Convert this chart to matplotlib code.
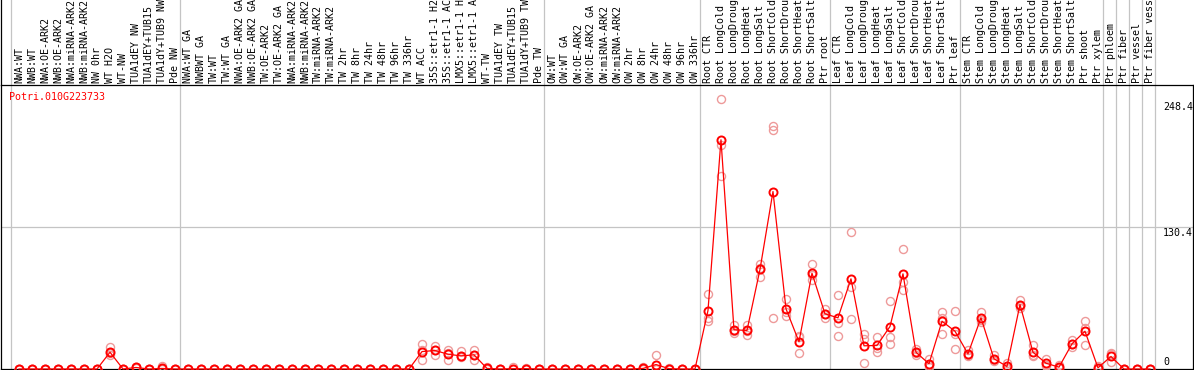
import numpy as np
import matplotlib
matplotlib.use("Agg")
import matplotlib.pyplot as plt
import matplotlib.transforms as mtransforms

# ---------------- data ----------------
gene_id = "Potri.010G223733"

labels = [
    # group 1
    "NWA:WT", "NWB:WT", "NWA:OE-ARK2", "NWB:OE-ARK2", "NWA:miRNA-ARK2",
    "NWB:miRNA-ARK2", "NW 0hr", "WT H2O", "WT-NW", "TUA1dEY NW",
    "TUA1dEY+TUB15", "TUA1dY+TUB9 NW", "Pde NW",
    # group 2
    "NWA:WT GA", "NWBWT GA", "TW:WT", "TW:WT GA", "NWA:OE-ARK2 GA",
    "NWB:OE-ARK2 GA", "TW:OE-ARK2", "TW:OE-ARK2 GA", "NWA:miRNA-ARK2",
    "NWB:miRNA-ARK2", "TW:miRNA-ARK2", "TW:miRNA-ARK2", "TW 2hr", "TW 8hr",
    "TW 24hr", "TW 48hr", "TW 96hr", "TW 336hr", "WT ACC", "35S::etr1-1 H2",
    "35S::etr1-1 AC", "LMX5::etr1-1 H", "LMX5::etr1-1 A", "WT-TW",
    "TUA1dEY TW", "TUA1dEY+TUB15", "TUA1dY+TUB9 TW", "Pde TW",
    # group 3
    "OW:WT", "OW:WT GA", "OW:OE-ARK2", "OW:OE-ARK2 GA", "OW:miRNA-ARK2",
    "OW:miRNA-ARK2", "OW 2hr", "OW 8hr", "OW 24hr", "OW 48hr", "OW 96hr",
    "OW 336hr",
    # root
    "Root CTR", "Root LongCold", "Root LongDroug", "Root LongHeat",
    "Root LongSalt", "Root ShortCold", "Root ShortDrou", "Root ShortHeat",
    "Root ShortSalt", "Ptr root",
    # leaf
    "Leaf CTR", "Leaf LongCold", "Leaf LongDroug", "Leaf LongHeat",
    "Leaf LongSalt", "Leaf ShortCold", "Leaf ShortDrou", "Leaf ShortHeat",
    "Leaf ShortSalt", "Ptr leaf",
    # stem
    "Stem CTR", "Stem LongCold", "Stem LongDroug", "Stem LongHeat",
    "Stem LongSalt", "Stem ShortCold", "Stem ShortDrou", "Stem ShortHeat",
    "Stem ShortSalt", "Ptr shoot", "Ptr xylem",
    # singles
    "Ptr phloem", "Ptr fiber", "Ptr vessel", "Ptr fiber vess",
]

means = [
    0, 0, 0, 0, 0, 0, 0, 15.4, 0, 1.4, 0, 0.5, 0,
    0, 0, 0, 0, 0, 0, 0, 0, 0, 0, 0, 0, 0, 0, 0, 0, 0, 0,
    16.0, 17.0, 13.6, 12.0, 13.0, 0.5, 0, 0.3, 0.3, 0,
    0, 0, 0, 0, 0, 0, 0, 0.5, 4.1, 0.3, 0, 0,
    53.7, 210.5, 36.0, 35.4, 91.4, 163.0, 55.3, 25.0, 88.0, 50.7,
    47.0, 82.8, 21.3, 21.6, 39.0, 87.4, 15.4, 4.8, 43.9, 34.7,
    13.9, 47.0, 9.4, 2.3, 59.2, 15.4, 5.3, 1.7, 23.1, 34.7, 1.1,
    11.5, 0, 0, 0,
]

rep_a = [
    0, 0, 0, 0, 0, 0, 0, 20.0, 0, 1.6, 0, 2.6, 0,
    0, 0, 0, 0, 0, 0, 0, 0, 0, 0, 0, 0, 0, 0, 0, 0, 0, 0,
    22.5, 21.0, 17.6, 16.3, 17.6, 1.5, 0, 1.9, 0.8, 0,
    0, 0, 0, 0, 0, 0, 0, 1.7, 13.3, 0.8, 0, 0,
    69.0, 248.1, 40.0, 40.6, 96.6, 222.7, 64.5, 29.8, 96.0, 55.3,
    68.1, 125.6, 31.7, 29.8, 62.9, 110.4, 18.5, 9.4, 52.8, 53.7,
    17.0, 52.2, 12.4, 5.3, 63.8, 21.6, 9.4, 4.1, 26.2, 44.5, 3.2,
    14.0, 0, 0, 0,
]

rep_b = [
    0, 0, 0, 0, 0, 0, 0, 12.4, 0, 0.8, 0, 0.2, 0,
    0, 0, 0, 0, 0, 0, 0, 0, 0, 0, 0, 0, 0, 0, 0, 0, 0, 0,
    8.4, 13.0, 8.4, 10.8, 8.4, 0.2, 0, 0.1, 0.1, 0,
    0, 0, 0, 0, 0, 0, 0, 0.2, 0.0, 0.1, 0, 0,
    47.0, 205.9, 33.2, 30.8, 84.3, 219.6, 49.1, 14.9, 81.9, 46.4,
    42.0, 75.1, 27.7, 19.5, 29.8, 79.7, 13.3, 1.7, 32.3, 18.5,
    11.5, 45.2, 7.8, 0.8, 56.2, 11.5, 4.1, 0.5, 20.0, 22.3, 0.1,
    6.2, 0, 0, 0,
]

rep_c = [
    0, 0, 0, 0, 0, 0, 0, 15.0, 0, np.nan, 0, np.nan, 0,
    0, 0, 0, 0, 0, 0, 0, 0, 0, 0, 0, 0, 0, 0, 0, 0, 0, 0,
    17.0, 17.0, 14.5, 12.0, 13.0, np.nan, 0, np.nan, np.nan, 0,
    0, 0, 0, 0, 0, 0, 0, np.nan, 0.0, np.nan, 0, 0,
    43.9, 177.0, 35.0, 35.0, 93.0, 47.0, 52.0, 30.0, 86.0, 50.5,
    30.5, 46.0, 5.7, 15.5, 23.1, 72.1, 14.5, 3.3, 46.5, 31.9,
    13.2, 43.6, 8.0, 0.8, 57.6, 13.1, 2.4, 0.5, 23.1, 37.3, np.nan,
    14.3, 0, 0, 0,
]

group_starts = [0, 13, 41, 53, 63, 73, 84, 85, 86, 87, 88]
ytick_values = [0, 130.4, 248.4]
y_top = 260.8

# ---------------- styling ----------------
MONO = "DejaVu Sans Mono"
FS = 7.2
RED = "#FF0000"
PINK = "#EE9A9A"
GREY = "#C4C4C4"

fig = plt.figure(figsize=(11.94, 3.70), dpi=100)
fig.patch.set_facecolor("white")
ax = fig.add_axes([1 / 1194, 1 / 370, 1192 / 1194, 284 / 370])
ax.set_xlim(-1.385, 90.31)
ax.set_ylim(0, y_top)
ax.set_xticks([])
ax.set_yticks([])
for s in ax.spines.values():
    s.set_color("black")
    s.set_linewidth(0.9)

x = np.arange(len(labels))

# grid
ax.axhline(ytick_values[1], color=GREY, lw=0.9, zorder=1)
for g in group_starts:
    ax.axvline(g - 0.62, ymin=0, ymax=1.31, color=GREY, lw=0.9,
               clip_on=False, zorder=1)
# left black border continues through header
ax.axvline(ax.get_xlim()[0], ymin=1, ymax=1.31, color="black", lw=0.9,
           clip_on=False, zorder=3)

# header labels
trans = mtransforms.blended_transform_factory(ax.transData, ax.transAxes)
for i, lab in enumerate(labels):
    ax.text(x[i], 1.007, lab, transform=trans, rotation=90, ha="center",
            va="bottom", fontsize=FS, family=MONO, clip_on=False)

# gene id
ax.text(0.007, 0.959, gene_id, transform=ax.transAxes, color=RED,
        fontsize=FS, family=MONO, ha="left", va="center")

# y value labels (inside the right strip)
label_y = [6.7, 125.2, 240.6]
for v, ly in zip(ytick_values, label_y):
    ax.text(88.0, ly, f"{v:g}", fontsize=FS, family=MONO, ha="left",
            va="center")

# replicates
for reps in (rep_a, rep_b, rep_c):
    ax.plot(x, reps, ls="none", marker="o", ms=5.8, mfc="none", mec=PINK,
            mew=1.0, clip_on=False, zorder=4)

# means
ax.plot(x, means, color=RED, lw=0.9, marker="o", ms=5.8, mfc="none",
        mec=RED, mew=1.4, clip_on=False, zorder=5)

fig.savefig("out.png", dpi=100, facecolor="white")
